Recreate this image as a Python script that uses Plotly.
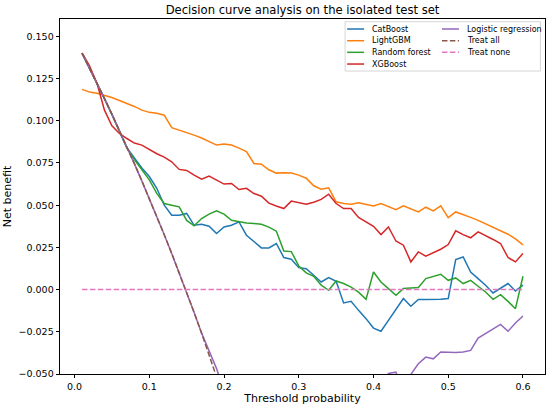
import plotly.graph_objects as go

# threshold probabilities on the x axis
thresholds = [0.01, 0.02, 0.03, 0.04, 0.05, 0.06, 0.07, 0.08, 0.09, 0.10,
              0.11, 0.12, 0.13, 0.14, 0.15, 0.16, 0.17, 0.18, 0.19, 0.20,
              0.21, 0.22, 0.23, 0.24, 0.25, 0.26, 0.27, 0.28, 0.29, 0.30,
              0.31, 0.32, 0.33, 0.34, 0.35, 0.36, 0.37, 0.38, 0.39, 0.40,
              0.41, 0.42, 0.43, 0.44, 0.45, 0.46, 0.47, 0.48, 0.49, 0.50,
              0.51, 0.52, 0.53, 0.54, 0.55, 0.56, 0.57, 0.58, 0.59, 0.60]

# net benefit per model
catboost = [0.1400, 0.1312, 0.1223, 0.1131, 0.1038, 0.0943, 0.0840, 0.0780, 0.0720, 0.0670,
            0.0600, 0.0500, 0.0441, 0.0441, 0.0451, 0.0381, 0.0387, 0.0375, 0.0332, 0.0371,
            0.0381, 0.0401, 0.0322, 0.0285, 0.0247, 0.0247, 0.0273, 0.0190, 0.0180, 0.0130,
            0.0124, 0.0085, 0.0045, 0.0071, 0.0049, -0.0079, -0.0069, -0.0123, -0.0172, -0.0228,
            -0.0247, -0.0182, -0.0119, -0.0053, -0.0099, -0.0059, -0.0059, -0.0059, -0.0057, -0.0053,
            0.0178, 0.0193, 0.0104, 0.0065, 0.0026, -0.0020, 0.0006, 0.0036, -0.0008, 0.0026]

lightgbm = [0.1186, 0.1170, 0.1163, 0.1150, 0.1138, 0.1120, 0.1103, 0.1085, 0.1063, 0.1050,
            0.1044, 0.1033, 0.0959, 0.0945, 0.0932, 0.0915, 0.0898, 0.0877, 0.0856, 0.0862,
            0.0856, 0.0838, 0.0818, 0.0747, 0.0743, 0.0710, 0.0690, 0.0692, 0.0690, 0.0678,
            0.0660, 0.0615, 0.0595, 0.0603, 0.0520, 0.0510, 0.0506, 0.0514, 0.0506, 0.0496,
            0.0510, 0.0492, 0.0474, 0.0496, 0.0480, 0.0460, 0.0488, 0.0466, 0.0496, 0.0426,
            0.0460, 0.0445, 0.0428, 0.0410, 0.0390, 0.0370, 0.0350, 0.0328, 0.0300, 0.0265]

random_forest = [0.1400, 0.1312, 0.1223, 0.1131, 0.1038, 0.0943, 0.0840, 0.0770, 0.0710, 0.0650,
                 0.0570, 0.0510, 0.0500, 0.0490, 0.0410, 0.0378, 0.0421, 0.0447, 0.0466, 0.0447,
                 0.0411, 0.0401, 0.0395, 0.0391, 0.0387, 0.0370, 0.0346, 0.0229, 0.0225, 0.0140,
                 0.0099, 0.0079, 0.0026, -0.0004, 0.0051, 0.0036, 0.0015, -0.0015, -0.0058, 0.0104,
                 0.0045, 0.0006, -0.0034, 0.0006, 0.0010, 0.0012, 0.0065, 0.0079, 0.0091, 0.0055,
                 0.0069, 0.0036, 0.0055, 0.0020, -0.0014, -0.0058, -0.0030, -0.0070, -0.0113, 0.0079]

xgboost = [0.1403, 0.1325, 0.1222, 0.1063, 0.0970, 0.0925, 0.0895, 0.0868, 0.0856, 0.0828,
           0.0805, 0.0785, 0.0757, 0.0712, 0.0706, 0.0678, 0.0654, 0.0672, 0.0648, 0.0625,
           0.0629, 0.0593, 0.0600, 0.0569, 0.0553, 0.0512, 0.0495, 0.0480, 0.0524, 0.0514,
           0.0506, 0.0518, 0.0534, 0.0565, 0.0510, 0.0480, 0.0480, 0.0427, 0.0400, 0.0375,
           0.0326, 0.0371, 0.0288, 0.0263, 0.0164, 0.0223, 0.0198, 0.0217, 0.0239, 0.0267,
           0.0348, 0.0326, 0.0307, 0.0342, 0.0317, 0.0297, 0.0273, 0.0190, 0.0164, 0.0214]

logistic = [0.1400, 0.1312, 0.1223, 0.1131, 0.1038, 0.0943, 0.0845, 0.0746, 0.0644, 0.0540,
            0.0434, 0.0325, 0.0214, 0.0100, -0.0016, -0.0136, -0.0258, -0.0365, -0.0468, -0.0600,
            -0.0680, -0.0750, -0.0800, -0.0820, -0.0850, -0.0840, -0.0830, -0.0820, -0.0800, -0.0790,
            -0.0780, -0.0760, -0.0740, -0.0720, -0.0700, -0.0680, -0.0660, -0.0640, -0.0620, -0.0600,
            -0.0560, -0.0497, -0.0489, -0.0600, -0.0502, -0.0439, -0.0400, -0.0410, -0.0370, -0.0372,
            -0.0372, -0.0370, -0.0360, -0.0287, -0.0260, -0.0231, -0.0206, -0.0247, -0.0198, -0.0156]

# reference strategies
treat_all = [0.1400, 0.1312, 0.1223, 0.1131, 0.1038, 0.0943, 0.0845, 0.0746, 0.0644, 0.0540,
             0.0434, 0.0325, 0.0214, 0.0100, -0.0016, -0.0136, -0.0258, -0.0383, -0.0511, -0.0643,
             -0.0777]
treat_none = [0.0] * len(thresholds)

names = ["CatBoost", "LightGBM", "Random forest", "XGBoost",
         "Logistic regression", "Treat all", "Treat none"]
colors = ["#1f77b4", "#ff7f0e", "#2ca02c", "#d62728", "#9467bd", "#8c564b", "#e377c2"]
series = [catboost, lightgbm, random_forest, xgboost, logistic, treat_all, treat_none]
dashed = [False, False, False, False, False, True, True]

FONT = "DejaVu Sans"
DASH = "5.5px,2.4px"

fig = go.Figure()
for name, vals, col, dsh in zip(names, series, colors, dashed):
    fig.add_trace(go.Scatter(
        x=thresholds[:len(vals)], y=vals, mode="lines", name=name,
        line=dict(color=col, width=1.5, dash=DASH if dsh else "solid"),
        showlegend=False))

# plot area in pixels (for placing the legend box like matplotlib does)
L, R, T, B = 60, 545.3, 19, 373.7
def fx(px):
    return (px - L) / (R - L)
def fy(py):
    return (B - py) / (B - T)

shapes = [dict(type="rect", xref="paper", yref="paper",
               x0=fx(345.3), x1=fx(540.7), y0=fy(71), y1=fy(21.7),
               line=dict(color="#cccccc", width=0.8),
               fillcolor="rgba(255,255,255,0.8)", layer="above")]
annotations = []
col_x = [347.3, 442.2]
row_y = [29.0, 40.7, 52.3, 64.0]
for i, (name, col, dsh) in enumerate(zip(names, colors, dashed)):
    cx = col_x[i // 4]
    ry = row_y[i % 4]
    shapes.append(dict(type="line", xref="paper", yref="paper",
                       x0=fx(cx), x1=fx(cx + 17), y0=fy(ry), y1=fy(ry),
                       line=dict(color=col, width=1.5, dash=DASH if dsh else "solid"),
                       layer="above"))
    annotations.append(dict(text=name, xref="paper", yref="paper",
                            x=fx(cx + 22.7), y=fy(ry), xanchor="left", yanchor="middle",
                            showarrow=False, font=dict(family=FONT, size=8, color="black")))

fig.update_layout(
    width=550, height=408,
    margin=dict(l=L, r=550 - R, t=T, b=408 - B),
    paper_bgcolor="white", plot_bgcolor="white",
    font=dict(family=FONT, size=9.5, color="black"),
    title=dict(text="Decision curve analysis on the isolated test set",
               font=dict(family=FONT, size=11.6, color="black"),
               x=0.5, xref="paper", xanchor="center",
               y=1 - 9.5 / 408, yanchor="middle"),
    xaxis=dict(range=[-0.0195, 0.6295], tick0=0, dtick=0.1, tickformat=".1f",
               ticks="outside", ticklen=3.5, tickwidth=0.8, tickcolor="black",
               showline=True, mirror=True, linecolor="black", linewidth=0.8,
               showgrid=False, zeroline=False,
               title=dict(text="Threshold probability", standoff=3)),
    yaxis=dict(range=[-0.05, 0.1603], tick0=0, dtick=0.025, tickformat=".3f",
               ticks="outside", ticklen=3.5, tickwidth=0.8, tickcolor="black",
               showline=True, mirror=True, linecolor="black", linewidth=0.8,
               showgrid=False, zeroline=False,
               title=dict(text="Net benefit", standoff=4)),
    shapes=shapes, annotations=annotations,
)

# the page body has an 8px default margin; drop it so the figure fills the window
fig.write_html("out.html", config={"displayModeBar": False},
               post_script="document.body.style.margin='0';")
